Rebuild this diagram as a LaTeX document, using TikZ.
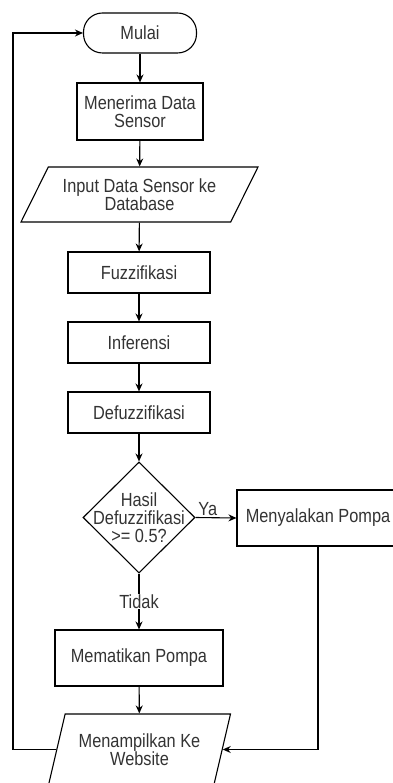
\documentclass[tikz,border=0pt]{standalone}
\usepackage{fontspec}
\setmainfont{Liberation Sans}[FakeStretch=0.86]
\usetikzlibrary{shapes.geometric,arrows.meta}

\begin{document}
\begin{tikzpicture}[x=1pt,y=-1pt,>={Stealth[length=8pt,width=7pt]},line width=1.1pt,
  font=\fontsize{19}{18}\selectfont,
  kotak/.style={draw,rectangle,text=black!80,align=center,inner sep=0pt},
  mulaibox/.style={kotak,rounded corners=19pt},
  datanya/.style={draw,trapezium,trapezium stretches body,text=black!80,align=center,inner sep=0pt},
  putusan/.style={draw,diamond,inner sep=0pt,minimum width=112pt,minimum height=111pt},
  teks/.style={text=black!80,align=center,inner sep=1pt}]
  \useasboundingbox (0,0) rectangle (392,783);

  % Knoten
  \node[mulaibox,minimum width=113pt,minimum height=40pt] (mulai) at (140,33) {Mulai};
  \node[kotak,minimum width=126pt,minimum height=57pt] (terima) at (140,111.5) {Menerima Data\\Sensor};
  \node[datanya,trapezium left angle=49.5,trapezium right angle=130.5,
    minimum width=237pt,minimum height=55pt] (input) at (139.5,194.5) {Input Data Sensor ke\\Database};
  \node[kotak,minimum width=142pt,minimum height=41pt] (fuzzi) at (139,272.5) {Fuzzifikasi};
  \node[kotak,minimum width=142pt,minimum height=41pt] (infer) at (139,342.5) {Inferensi};
  \node[kotak,minimum width=142pt,minimum height=41pt] (defuzzi) at (139,412.5) {Defuzzifikasi};
  \node[putusan] (cek) at (139,517.5) {};
  \node[teks] (cekteks) at (139,517.5) {Hasil\\Defuzzifikasi\\>= 0.5?};
  \node[kotak,minimum width=162pt,minimum height=56pt] (nyala) at (318,518) {Menyalakan Pompa};
  \node[kotak,minimum width=168pt,minimum height=56pt] (mati) at (139,658) {Mematikan Pompa};
  \node[datanya,trapezium left angle=62.5,trapezium right angle=117.5,
    minimum width=182pt,minimum height=71pt] (tampil) at (139.5,749.5) {Menampilkan Ke\\Website};
  \coordinate (kiri) at (13,400);

  % Pfeile
  \draw[->] (mulai) -- (terima);
  \draw[->] (terima) -- (input);
  \draw[->] (input) -- (fuzzi);
  \draw[->] (fuzzi) -- (infer);
  \draw[->] (infer) -- (defuzzi);
  \draw[->] (defuzzi) -- (cek);
  \draw[->] (cek.east) -- (nyala.west) node[teks,pos=0.3,above] (ya) {Ya};
  \draw[->] (cek.south) -- (mati.north) node[teks,midway,fill=white] (tidak) {Tidak};
  \draw[->] (mati) -- (tampil);
  \draw[->] (nyala.south) |- (tampil.east);
  \draw[->] (tampil.west) -| (kiri) |- (mulai.west);
\end{tikzpicture}
\end{document}
